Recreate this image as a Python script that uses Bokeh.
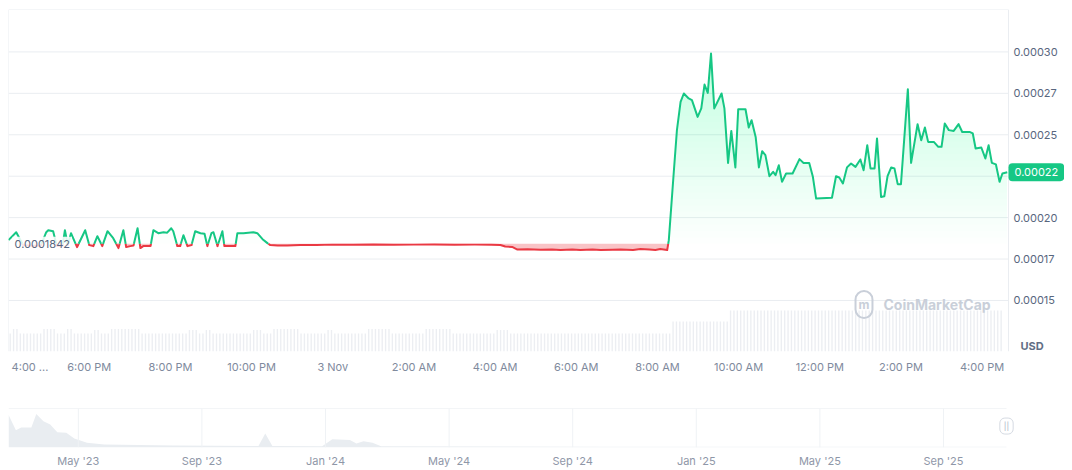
import numpy as np
from bokeh.plotting import figure
from bokeh.models import Range1d, FixedTicker, Label
from bokeh.layouts import column
from bokeh.embed import file_html
from bokeh.resources import INLINE

# ---------------- data ----------------
# hours relative to midnight, 3 Nov
price_hours = [
    -7.99, -7.80, -7.63, -7.40, -7.20, -7.06, -7.01, -6.89, -6.80, -6.66, -6.60, -6.53,
    -6.45, -6.30, -6.10, -6.00, -5.90, -5.80, -5.68, -5.55, -5.41, -5.28, -5.16, -5.09,
    -4.99, -4.91, -4.81, -4.74, -4.67, -4.49, -4.42, -4.30, -4.17, -4.08, -3.98, -3.93,
    -3.83, -3.76, -3.68, -3.58, -3.48, -3.39, -3.26, -3.16, -3.09, -2.99, -2.94, -2.84,
    -2.72, -2.67, -2.40, -2.35, -2.20, -1.96, -1.86, -1.73, -1.61, -1.54, -1.36, -1.12,
    -0.80, -0.40, 0.00, 0.50, 1.00, 1.50, 2.00, 2.50, 3.00, 3.50, 3.90, 4.13,
    4.25, 4.42, 4.55, 4.80, 5.12, 5.40, 5.61, 5.90, 6.10, 6.40, 6.60, 6.90,
    7.09, 7.40, 7.58, 7.80, 7.95, 8.07, 8.24,
    8.28, 8.40, 8.48, 8.57, 8.65, 8.77, 8.85, 8.99, 9.08, 9.16, 9.24, 9.32,
    9.40, 9.58, 9.65, 9.74, 9.82, 9.92, 9.99, 10.17, 10.25, 10.32, 10.42, 10.50,
    10.58, 10.66, 10.76, 10.85, 10.91, 10.99, 11.07, 11.17, 11.33, 11.50, 11.60, 11.74,
    11.83, 11.91, 12.30, 12.40, 12.48, 12.57, 12.67, 12.77, 12.88, 13.00, 13.08, 13.17,
    13.25, 13.35, 13.41, 13.51, 13.59, 13.67, 13.76, 13.84, 13.92, 14.00, 14.17, 14.25,
    14.41, 14.50, 14.59, 14.67, 14.81, 14.92, 15.00, 15.08, 15.18, 15.30, 15.42, 15.51,
    15.69, 15.77, 15.84, 15.98, 16.08, 16.16, 16.24, 16.34, 16.43, 16.50, 16.62,
]
price_values = [
    0.0001864, 0.0001912, 0.0001834, 0.0001828, 0.0001828, 0.0001912, 0.0001924, 0.0001918, 0.0001828, 0.0001828, 0.0001924, 0.0001834,
    0.0001906, 0.0001822, 0.0001924, 0.0001834, 0.0001828, 0.0001888, 0.0001828, 0.0001918, 0.0001876, 0.0001816, 0.0001924, 0.0001822,
    0.0001828, 0.0001831, 0.0001936, 0.0001816, 0.0001828, 0.0001828, 0.0001924, 0.0001906, 0.0001912, 0.0001909, 0.0001936, 0.0001918,
    0.0001828, 0.0001828, 0.0001894, 0.0001828, 0.0001834, 0.0001918, 0.0001906, 0.0001903, 0.0001828, 0.0001906, 0.0001912, 0.0001828,
    0.0001918, 0.0001828, 0.0001828, 0.0001906, 0.0001906, 0.0001912, 0.0001906, 0.0001870, 0.0001846, 0.0001834, 0.0001831, 0.0001831,
    0.0001834, 0.0001835, 0.0001837, 0.0001836, 0.0001838, 0.0001836, 0.0001837, 0.0001838, 0.0001836, 0.0001837, 0.0001836, 0.0001835,
    0.0001826, 0.0001823, 0.0001807, 0.0001809, 0.0001806, 0.0001808, 0.0001804, 0.0001807, 0.0001805, 0.0001807, 0.0001804, 0.0001806,
    0.0001807, 0.0001805, 0.0001810, 0.0001807, 0.0001804, 0.0001810, 0.0001804,
    0.0001864, 0.0002266, 0.0002528, 0.0002698, 0.0002749, 0.0002719, 0.0002709, 0.0002608, 0.0002659, 0.0002803, 0.0002753, 0.0002990,
    0.0002659, 0.0002749, 0.0002659, 0.0002330, 0.0002523, 0.0002303, 0.0002654, 0.0002654, 0.0002544, 0.0002588, 0.0002487, 0.0002303,
    0.0002401, 0.0002377, 0.0002250, 0.0002276, 0.0002256, 0.0002316, 0.0002216, 0.0002266, 0.0002266, 0.0002353, 0.0002330, 0.0002330,
    0.0002246, 0.0002115, 0.0002120, 0.0002250, 0.0002242, 0.0002206, 0.0002303, 0.0002327, 0.0002306, 0.0002351, 0.0002286, 0.0002437,
    0.0002297, 0.0002297, 0.0002478, 0.0002125, 0.0002129, 0.0002250, 0.0002303, 0.0002297, 0.0002202, 0.0002202, 0.0002775, 0.0002330,
    0.0002564, 0.0002467, 0.0002544, 0.0002457, 0.0002457, 0.0002427, 0.0002427, 0.0002568, 0.0002528, 0.0002523, 0.0002564, 0.0002517,
    0.0002517, 0.0002508, 0.0002417, 0.0002423, 0.0002357, 0.0002437, 0.0002330, 0.0002321, 0.0002216, 0.0002266, 0.0002274,
]
baseline_price = 0.0001842
baseline_text = "0.0001842"
last_price_text = "0.00022"
currency_text = "USD"

y_tick_values = [0.00015, 0.000175, 0.0002, 0.000225, 0.00025, 0.000275, 0.0003]
y_tick_labels = ["0.00015", "0.00017", "0.00020", "0.00022", "0.00025", "0.00027", "0.00030"]

x_tick_hours = [-6, -4, -2, 0, 2, 4, 6, 8, 10, 12, 14, 16]
x_tick_labels = ["6:00 PM", "8:00 PM", "10:00 PM", "3 Nov", "2:00 AM", "4:00 AM",
                 "6:00 AM", "8:00 AM", "10:00 AM", "12:00 PM", "2:00 PM", "4:00 PM"]
first_x_label = "4:00 ..."

# volume (relative units), piecewise levels starting at these hours
vol_seg_start = [-7.99, -7.94, -7.70, -7.13, -6.79, -6.59, -6.42, -5.90, -5.73, -5.48,
                 -4.74, -3.58, -3.33, -3.19, -3.02, -1.96, -1.71, -1.46, -0.80, -0.13,
                 0.00, 0.85, 1.42, 2.24, 2.90, 4.05, 4.38, 8.32, 9.73]
vol_seg_value = [1.0, 1.25, 1.0, 1.25, 1.0, 1.25, 1.0, 1.2, 1.0, 1.25,
                 1.0, 1.2, 1.0, 1.2, 1.0, 1.2, 1.0, 1.25, 1.0, 1.2,
                 1.0, 1.25, 1.0, 1.25, 1.0, 1.2, 1.0, 1.67, 2.28]
vol_last_hour = 16.48
vol_interval_hours = 5 / 60

# navigator: months since Jan 2023, relative price
nav_month = [1.74, 1.98, 2.15, 2.48, 2.64, 2.87, 3.09, 3.32, 3.61, 3.87, 4.28, 4.84, 7.08,
             9.83, 10.05, 10.28, 11.89, 12.22, 12.79, 13.00, 13.23, 13.52, 13.80, 20.9, 27.0, 34.04]
nav_rel = [0.84, 0.44, 0.51, 0.51, 0.86, 0.67, 0.59, 0.39, 0.38, 0.23, 0.12, 0.08, 0.05,
           0.04, 0.36, 0.04, 0.03, 0.21, 0.19, 0.10, 0.16, 0.12, 0.03, 0.02, 0.02, 0.02]
nav_tick_months = [4, 8, 12, 16, 20, 24, 28, 32]
nav_tick_labels = ["May '23", "Sep '23", "Jan '24", "May '24", "Sep '24", "Jan '25", "May '25", "Sep '25"]

# ---------------- layout / styling ----------------
GREEN = "#16c784"
RED = "#ea3943"
GRID = "#eaedf1"
FONT = "Inter"
FIG_W = 1056
PLOT_W = 1000          # width of the price area inside the frame
X0, X1 = -7.99, 16.65  # visible hours of the price area
Y0, Y1 = 0.0001192, 0.0003256
px_per_hour = PLOT_W / (X1 - X0)
x_frame_end = X0 + FIG_W / px_per_hour

t = np.array(price_hours, dtype=float)
v = np.array(price_values, dtype=float)
B = baseline_price

# insert baseline crossing points
xs, ys = [t[0]], [v[0]]
for i in range(1, len(t)):
    a, b = v[i - 1] - B, v[i] - B
    if a * b < 0:
        f = a / (a - b)
        xs.append(t[i - 1] + f * (t[i] - t[i - 1]))
        ys.append(B)
    xs.append(t[i])
    ys.append(v[i])
xs = np.array(xs)
ys = np.array(ys)

# split into green / red runs
g_xs, g_ys, r_xs, r_ys = [], [], [], []
cur = None
for i in range(len(xs) - 1):
    up = (ys[i] + ys[i + 1]) / 2 >= B
    if up != cur:
        tgt_x, tgt_y = (g_xs, g_ys) if up else (r_xs, r_ys)
        tgt_x.append([xs[i]])
        tgt_y.append([ys[i]])
        cur = up
    tgt_x[-1].append(xs[i + 1])
    tgt_y[-1].append(ys[i + 1])

p = figure(width=FIG_W, height=373,
           x_range=Range1d(X0, x_frame_end), y_range=Range1d(Y0, Y1),
           output_backend="svg", toolbar_location=None, y_axis_location=None,
           min_border_left=0, min_border_right=0, min_border_top=1, min_border_bottom=30)
p.extra_y_ranges = {"vol": Range1d(0, 19)}
p.outline_line_color = None
p.background_fill_color = "white"
p.border_fill_color = "white"
p.xgrid.visible = False
p.ygrid.visible = False

# horizontal grid + frame of the price area
p.segment(x0=X0, x1=X1, y0=y_tick_values, y1=y_tick_values, line_color=GRID, line_width=1)
p.segment(x0=[X0, X1, X0], x1=[X1, X1, X0], y0=[Y1, Y0, Y0], y1=[Y1, Y1, Y1],
          line_color=GRID, line_width=1)

first_label_hour = X0 + 21.5 / px_per_hour
p.xaxis.ticker = FixedTicker(ticks=[first_label_hour] + x_tick_hours)
p.xaxis.major_label_overrides = dict(zip([first_label_hour] + x_tick_hours, [first_x_label] + x_tick_labels))
p.xaxis.axis_line_color = None
p.xaxis.major_tick_line_color = None
p.xaxis.minor_tick_line_color = None
p.xaxis.major_tick_out = 0
p.xaxis.major_tick_in = 0
p.xaxis.major_label_standoff = 8
p.xaxis.major_label_text_font = FONT
p.xaxis.major_label_text_font_size = "11px"
p.xaxis.major_label_text_color = "#808a9d"

# volume bars
vt = np.arange(vol_seg_start[0] + vol_interval_hours / 2, vol_last_hour, vol_interval_hours)
idx = np.searchsorted(vol_seg_start, vt, side="right") - 1
vv = np.array(vol_seg_value)[idx]
p.vbar(x=vt, top=vv, bottom=0, width=vol_interval_hours * 0.4, y_range_name="vol",
       fill_color="#eceef2", line_color=None)

# red fill below baseline
p.varea(x=xs, y1=np.minimum(ys, B), y2=B, fill_color=RED, fill_alpha=0.3)

# green gradient fill above baseline (stacked translucent layers)
N = 30
top = 0.0003
for k in range(N):
    L = B + k * (top - B) / N
    p.varea(x=xs, y1=L, y2=np.maximum(ys, L), fill_color=GREEN, fill_alpha=0.009)

p.multi_line(xs=r_xs, ys=r_ys, line_color=RED, line_width=2, line_join="round")
p.multi_line(xs=g_xs, ys=g_ys, line_color=GREEN, line_width=2, line_join="round")

# right price scale labels
for val, lab in zip(y_tick_values, y_tick_labels):
    p.add_layout(Label(x=PLOT_W + 5, x_units="screen", y=val, text=lab, text_baseline="middle",
                       text_align="left", text_font=FONT, text_font_size="11px", text_color="#58667e"))

# baseline label
p.add_layout(Label(x=4, x_units="screen", y=B, text=baseline_text, text_baseline="middle",
                   text_align="left", text_font=FONT, text_font_size="11px", text_color="#58667e",
                   background_fill_color="white", background_fill_alpha=0.85, padding=(2, 3)))
# currency label
p.add_layout(Label(x=PLOT_W + 12, x_units="screen", y=6, y_units="screen", text=currency_text,
                   text_baseline="middle", text_align="left", text_font=FONT, text_font_size="11px",
                   text_font_style="bold", text_color="#616e85"))
# watermark
WM = "#c9cfd9"
p.add_layout(Label(x=855.5, x_units="screen", y=47, y_units="screen", text="m",
                   text_baseline="middle", text_align="center", text_font=FONT, text_font_size="12px",
                   text_font_style="bold", text_color=WM, border_line_color=WM, border_line_width=2,
                   border_radius=12, padding=(3, 6)))
p.add_layout(Label(x=875, x_units="screen", y=47, y_units="screen", text="CoinMarketCap",
                   text_baseline="middle", text_align="left", text_font=FONT, text_font_size="14px",
                   text_font_style="bold", text_color=WM))
# last price tag
p.add_layout(Label(x=PLOT_W, x_units="screen", y=price_values[-1], text=last_price_text,
                   text_baseline="middle", text_align="left", text_font=FONT, text_font_size="11px",
                   text_color="white", background_fill_color=GREEN, border_radius=4, padding=(6, 5)))

# ---------------- navigator ----------------
NAV_W = 998
nav_px_per_month = NAV_W / (nav_month[-1] - nav_month[0])
nav_frame_end = nav_month[0] + FIG_W / nav_px_per_month
nav = figure(width=FIG_W, height=89, x_range=Range1d(nav_month[0], nav_frame_end), y_range=Range1d(0, 1),
             output_backend="svg", toolbar_location=None, y_axis_location=None,
             min_border_left=0, min_border_right=0, min_border_top=27, min_border_bottom=21)
nav.outline_line_color = None
nav.background_fill_color = "white"
nav.border_fill_color = "white"
nav.varea(x=nav_month, y1=0, y2=nav_rel, fill_color="#e9edf1")
nav.ygrid.visible = False
nav.xgrid.visible = False
nav.segment(x0=nav_tick_months, x1=nav_tick_months, y0=0, y1=1, line_color="#eff2f5")
nav.segment(x0=[nav_month[0]], x1=[nav_month[-1]], y0=[1], y1=[1], line_color="#e8ebef")
nav.xaxis.ticker = FixedTicker(ticks=nav_tick_months)
nav.xaxis.major_label_overrides = dict(zip(nav_tick_months, nav_tick_labels))
nav.xaxis.axis_line_color = None
nav.xaxis.major_tick_line_color = None
nav.xaxis.minor_tick_line_color = None
nav.xaxis.major_tick_out = 0
nav.xaxis.major_tick_in = 0
nav.xaxis.major_label_standoff = 6
nav.xaxis.major_label_text_font = FONT
nav.xaxis.major_label_text_font_size = "11px"
nav.xaxis.major_label_text_color = "#8f97a8"
nav.add_layout(Label(x=nav_month[-1], y=0.55, text="||", text_align="center", text_baseline="middle",
                     text_font=FONT, text_font_size="8px", text_color="#a6b0c3",
                     background_fill_color="white", border_line_color="#d5dae2",
                     border_radius=5, padding=(4, 3)))

layout = column(p, nav)
html = file_html(layout, INLINE, title="Price chart")
html = html.replace("</head>", "<style>html,body{overflow:hidden !important;} body{margin:8px !important;}</style></head>", 1)
open("out.html", "w").write(html)
